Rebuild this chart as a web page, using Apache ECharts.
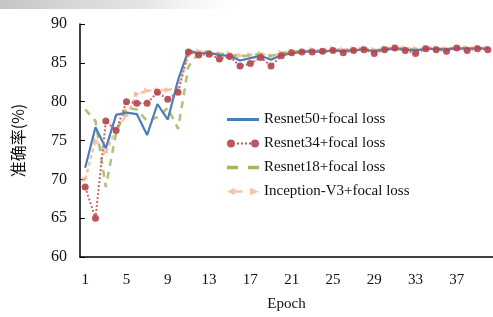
<!DOCTYPE html>
<html>
<head>
<meta charset="utf-8">
<script src="https://cdn.jsdelivr.net/npm/echarts@6/dist/echarts.min.js"></script>
<style>
  html, body { margin: 0; padding: 0; background: #fff; }
  #chart { width: 493px; height: 317px; }
</style>
</head>
<body>
<div id="chart"></div>
<script>
// epochs 1..40
const epochs = []
for (let i = 1; i <= 40; i++) epochs.push(String(i))

const resnet50 = [71.5, 76.7, 74.0, 78.3, 78.6, 78.4, 75.7, 79.7, 77.7, 82.8, 86.6,
  86.2, 86.3, 86.0, 85.9, 85.3, 85.6, 85.9, 85.4, 86.0, 86.2, 86.4, 86.5, 86.4, 86.6,
  86.5, 86.6, 86.7, 86.5, 86.7, 86.8, 86.7, 86.6, 86.8, 86.8, 86.7, 86.9, 86.8, 86.9, 86.8]
const resnet34 = [69.0, 65.0, 77.5, 76.3, 80.0, 79.8, 79.8, 81.2, 80.3, 81.2, 86.4,
  86.0, 86.1, 85.5, 85.8, 84.6, 84.9, 85.7, 84.6, 85.9, 86.3, 86.4, 86.4, 86.5, 86.6,
  86.3, 86.6, 86.7, 86.2, 86.7, 86.9, 86.6, 86.2, 86.8, 86.7, 86.5, 86.9, 86.6, 86.8, 86.7]
const resnet18 = [79.0, 77.5, 69.0, 76.0, 79.2, 79.0, 77.5, 78.0, 79.2, 76.5, 84.5,
  86.3, 86.5, 86.2, 86.0, 85.8, 86.0, 86.1, 85.9, 86.2, 86.4, 86.5, 86.6, 86.5, 86.7,
  86.6, 86.7, 86.8, 86.6, 86.8, 86.9, 86.8, 86.7, 86.9, 86.8, 86.8, 87.0, 86.9, 86.9, 86.9]
const inceptionV3 = [70.0, 75.0, 73.5, 76.5, 78.2, 81.0, 81.4, 81.5, 81.5, 81.8, 86.0,
  86.5, 86.3, 86.1, 86.2, 85.9, 86.0, 86.2, 85.8, 86.3, 86.5, 86.5, 86.7, 86.6, 86.8,
  86.7, 86.8, 86.9, 86.7, 86.9, 87.0, 86.9, 86.8, 87.0, 86.9, 86.8, 87.0, 86.9, 87.0, 86.9]

const serif = 'Liberation Serif'

// legend icons drawn like the original figure (line / dotted with dots / dashes / arrows)
const iconSolid = 'path://M0,0H32V3H0Z'
const iconDots = 'path://M0,4a4,4 0 1,0 8,0a4,4 0 1,0 -8,0Z M10,3H12V5H10Z M14,3H16V5H14Z M18,3H20V5H18Z M22,3H24V5H22Z M24,4a4,4 0 1,0 8,0a4,4 0 1,0 -8,0Z'
const iconDash = 'path://M0,0H10V3H0Z M19,0H29V3H19Z'
const iconArrow = 'path://M0,4L6,1V3H12V5H6V7Z M18,1L25,4L18,7Z'

const chart = echarts.init(document.getElementById('chart'))
chart.setOption({
  animation: false,
  backgroundColor: '#fff',
  graphic: [
    {
      type: 'rect', left: 0, top: 0, z: 0,
      shape: { width: 240, height: 9 },
      style: {
        fill: new echarts.graphic.LinearGradient(0, 0, 1, 0, [
          { offset: 0, color: 'rgba(150,150,150,0.55)' },
          { offset: 0.6, color: 'rgba(180,180,180,0.35)' },
          { offset: 1, color: 'rgba(220,220,220,0)' }
        ])
      }
    }
  ],
  legend: {
    orient: 'vertical',
    left: 222,
    top: 107,
    itemGap: 9,
    itemWidth: 32,
    itemHeight: 10,
    textStyle: { fontFamily: serif, fontSize: 15, color: '#111' },
    data: [
      { name: 'Resnet50+focal loss', icon: iconSolid },
      { name: 'Resnet34+focal loss', icon: iconDots },
      { name: 'Resnet18+focal loss', icon: iconDash },
      { name: 'Inception-V3+focal loss', icon: iconArrow }
    ]
  },
  grid: { left: 80, right: 0, top: 24, bottom: 60 },
  xAxis: {
    type: 'category',
    data: epochs,
    boundaryGap: true,
    name: 'Epoch',
    nameLocation: 'middle',
    nameGap: 40,
    nameTextStyle: { fontFamily: serif, fontSize: 15, color: '#111' },
    axisLine: { lineStyle: { color: '#000', width: 1.5 } },
    axisTick: { inside: true, alignWithLabel: true, interval: 3, length: 5, lineStyle: { color: '#000' } },
    axisLabel: { interval: 3, margin: 16, fontFamily: serif, fontSize: 15, color: '#111' },
    splitLine: { show: false }
  },
  yAxis: {
    type: 'value',
    min: 60,
    max: 90,
    interval: 5,
    name: '准确率(%)',
    nameLocation: 'middle',
    nameGap: 54,
    nameTextStyle: { fontFamily: 'Noto Sans CJK SC', fontSize: 16, color: '#111' },
    axisLine: { show: true, lineStyle: { color: '#000', width: 1.5 } },
    axisTick: { show: true, inside: true, length: 5, lineStyle: { color: '#000' } },
    axisLabel: { margin: 13, fontFamily: serif, fontSize: 16, color: '#111' },
    splitLine: { show: false }
  },
  series: [
    {
      name: 'Resnet50+focal loss',
      type: 'line',
      data: resnet50,
      symbol: 'none',
      z: 3,
      lineStyle: { color: '#4a7ebb', width: 2.2 },
      itemStyle: { color: '#4a7ebb' }
    },
    {
      name: 'Resnet34+focal loss',
      type: 'line',
      data: resnet34,
      symbol: 'circle',
      symbolSize: 7,
      showAllSymbol: true,
      z: 4,
      lineStyle: { color: '#c8686b', width: 2, type: [2, 2] },
      itemStyle: { color: '#b5464b', opacity: 0.9 }
    },
    {
      name: 'Resnet18+focal loss',
      type: 'line',
      data: resnet18,
      symbol: 'none',
      z: 2,
      lineStyle: { color: '#9bbb59', width: 2.5, type: [7, 6], opacity: 0.85 },
      itemStyle: { color: '#9bbb59' }
    },
    {
      name: 'Inception-V3+focal loss',
      type: 'line',
      data: inceptionV3,
      symbol: 'triangle',
      symbolRotate: -90,
      symbolSize: 6,
      showAllSymbol: true,
      z: 1,
      lineStyle: { color: '#f5b99b', width: 2.5, type: [4, 3], opacity: 0.85 },
      itemStyle: { color: '#f5b99b', opacity: 0.85 }
    }
  ]
})
</script>
</body>
</html>
